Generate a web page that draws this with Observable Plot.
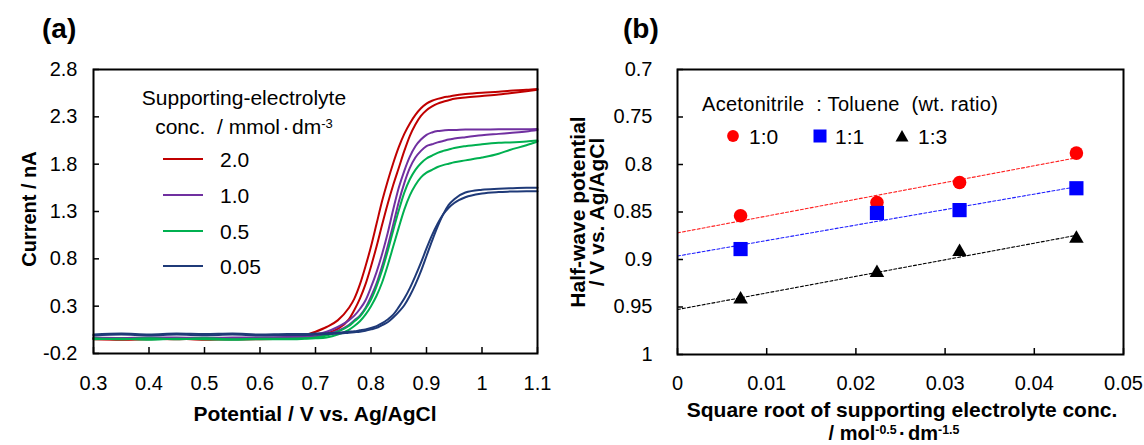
<!DOCTYPE html>
<html><head><meta charset="utf-8">
<script src="https://cdn.jsdelivr.net/npm/d3@7"></script>
<script src="https://cdn.jsdelivr.net/npm/@observablehq/plot@0.6"></script>
<style>
body{margin:0;background:#fff;}
#wrap{position:relative;width:1144px;height:445px;overflow:hidden;font-family:"Liberation Sans",Arial,Helvetica,sans-serif;color:#000;background:#fff;}
.pl{position:absolute;top:0;}
.t{position:absolute;white-space:pre;line-height:1;}
sup{font-size:0.62em;vertical-align:0.5em;line-height:0;}
.md{margin:0 0.12em;}
</style></head><body><div id="wrap"></div>
<script>
// ---------- Panel (a) data ----------
const potential = [0.30,0.35,0.40,0.45,0.50,0.55,0.60,0.65,0.68,0.70,0.72,0.74,0.76,0.77,0.78,0.79,0.80,0.81,0.82,0.83,0.84,0.85,0.86,0.87,0.88,0.89,0.90,0.91,0.92,0.93,0.94,0.95,0.97,1.00,1.03,1.05,1.08,1.10];
const red_a = [-0.04,-0.05,-0.045,-0.05,-0.04,-0.05,-0.045,-0.03,-0.01,0.03,0.08,0.15,0.28,0.38,0.53,0.72,0.93,1.17,1.41,1.62,1.81,1.98,2.12,2.23,2.32,2.39,2.44,2.47,2.49,2.505,2.515,2.525,2.54,2.555,2.565,2.575,2.585,2.595];
const red_b = [-0.05,-0.055,-0.05,-0.045,-0.055,-0.05,-0.05,-0.045,-0.035,-0.02,0.01,0.06,0.16,0.26,0.38,0.53,0.72,0.93,1.16,1.38,1.58,1.76,1.94,2.10,2.22,2.31,2.37,2.41,2.44,2.46,2.475,2.49,2.505,2.52,2.535,2.55,2.57,2.585];
const purple_a = [-0.03,-0.035,-0.03,-0.03,-0.035,-0.03,-0.03,-0.025,-0.015,0.0,0.03,0.08,0.15,0.20,0.27,0.36,0.50,0.66,0.85,1.07,1.32,1.55,1.73,1.88,1.99,2.06,2.11,2.135,2.15,2.155,2.16,2.16,2.165,2.165,2.17,2.17,2.17,2.172];
const purple_b = [-0.04,-0.04,-0.045,-0.04,-0.04,-0.045,-0.04,-0.035,-0.03,-0.02,0.0,0.04,0.10,0.15,0.20,0.28,0.40,0.54,0.72,0.93,1.16,1.40,1.60,1.76,1.87,1.94,1.99,2.01,2.03,2.045,2.06,2.07,2.085,2.105,2.12,2.13,2.145,2.16];
const green_a = [-0.04,-0.05,-0.04,-0.05,-0.04,-0.05,-0.045,-0.045,-0.04,-0.03,-0.01,0.03,0.09,0.14,0.19,0.27,0.37,0.51,0.68,0.88,1.10,1.31,1.50,1.64,1.74,1.81,1.86,1.89,1.92,1.94,1.955,1.97,1.99,2.01,2.025,2.03,2.04,2.05];
const green_b = [-0.05,-0.045,-0.055,-0.045,-0.05,-0.055,-0.05,-0.05,-0.045,-0.04,-0.03,0.0,0.05,0.09,0.14,0.21,0.30,0.41,0.55,0.73,0.93,1.13,1.32,1.47,1.58,1.66,1.71,1.74,1.77,1.79,1.805,1.82,1.84,1.87,1.91,1.95,2.00,2.04];
const navy_a = [0.0,0.01,0.0,0.01,0.005,0.01,0.0,0.005,0.005,0.01,0.015,0.02,0.03,0.035,0.045,0.055,0.07,0.09,0.12,0.16,0.21,0.29,0.38,0.49,0.62,0.76,0.91,1.05,1.17,1.27,1.34,1.39,1.45,1.49,1.505,1.51,1.515,1.515];
const navy_b = [-0.01,0.0,-0.01,0.0,-0.01,0.0,-0.01,-0.005,-0.005,0.0,0.005,0.01,0.02,0.025,0.03,0.04,0.055,0.07,0.10,0.13,0.18,0.24,0.31,0.41,0.53,0.67,0.83,0.99,1.14,1.27,1.37,1.43,1.50,1.53,1.54,1.545,1.55,1.55];
const concLabels = ["2.0","1.0","0.5","0.05"];
const concColors = ["#C00000","#7030A0","#00B050","#1F3A78"];
const xTicksA = [0.3,0.4,0.5,0.6,0.7,0.8,0.9,1.0,1.1];
const yTicksA = [-0.2,0.3,0.8,1.3,1.8,2.3,2.8];

// ---------- Panel (b) data ----------
const sqrtConc = [0.00707,0.02236,0.03162,0.04472];
const e_1_0 = [0.854,0.840,0.819,0.788];
const e_1_1 = [0.889,0.851,0.848,0.825];
const e_1_3 = [0.942,0.914,0.892,0.878];
const ratioLabels = ["1:0","1:1","1:3"];
const xTicksB = [0,0.01,0.02,0.03,0.04,0.05];
const yTicksB = [0.7,0.75,0.8,0.85,0.9,0.95,1];

const FONT = '"Liberation Sans", Arial, Helvetica, sans-serif';
const TICKFS = 20;
const TICKLEN = 6;
const fmt = d => String(+d.toFixed(3));
const wrap = document.getElementById("wrap");

// inward tick marks built from the tick arrays
function inwardTicks(xt, yt, L){
  const fw = L.width - L.marginLeft - L.marginRight;
  const fh = L.height - L.marginTop - L.marginBottom;
  return [
    Plot.tickX(xt, {x:d=>d, insetTop:fh-TICKLEN, stroke:"#000", strokeWidth:1.5}),
    Plot.tickY(yt, {y:d=>d, insetRight:fw-TICKLEN, stroke:"#000", strokeWidth:1.5})
  ];
}

// ---- build panel (a)
const curves = [
  {conc:"2.0", scan:"a", I:red_a},{conc:"2.0", scan:"b", I:red_b},
  {conc:"1.0", scan:"a", I:purple_a},{conc:"1.0", scan:"b", I:purple_b},
  {conc:"0.5", scan:"a", I:green_a},{conc:"0.5", scan:"b", I:green_b},
  {conc:"0.05", scan:"a", I:navy_a},{conc:"0.05", scan:"b", I:navy_b}
];
const rowsA = curves.flatMap(c => potential.map((E,i) => ({E, I:c.I[i], conc:c.conc, key:c.conc+c.scan})));

const layoutA = {width:560, height:445, marginLeft:93, marginRight:23, marginTop:69, marginBottom:92};
const plotA = Plot.plot({
  ...layoutA,
  style:{fontFamily:FONT, fontSize:TICKFS+"px", color:"#000", background:"transparent", overflow:"visible"},
  x:{domain:[0.3,1.1], label:null},
  y:{domain:[-0.2,2.8], label:null},
  color:{domain:concLabels, range:concColors},
  marks:[
    Plot.line(rowsA,{x:"E", y:"I", z:"key", stroke:"conc", strokeWidth:2, curve:"monotone-x"}),
    ...inwardTicks(xTicksA, yTicksA, layoutA),
    Plot.frame({stroke:"#000", strokeWidth:2}),
    Plot.axisX({ticks:xTicksA, tickSize:0, tickPadding:22, tickFormat:fmt, label:null, fontSize:TICKFS}),
    Plot.axisY({ticks:yTicksA, tickSize:0, tickPadding:16, tickFormat:fmt, label:null, fontSize:TICKFS})
  ]
});
plotA.classList.add("pl"); plotA.style.left = "0px";
wrap.appendChild(plotA);

// ---- build panel (b)
const seriesB = [
  {name:ratioLabels[0], E:e_1_0, color:"#FF0000", line:"#FF2020", symbol:"circle", r:6.8},
  {name:ratioLabels[1], E:e_1_1, color:"#0000FF", line:"#2020FF", symbol:"square", r:8.0},
  {name:ratioLabels[2], E:e_1_3, color:"#000000", line:"#000000", symbol:"triangle", r:5.4}
];
function fitRows(s){
  const xs = sqrtConc, ys = s.E;
  const mx = d3.mean(xs), my = d3.mean(ys);
  const m = d3.sum(xs, (x,i) => (x-mx)*(ys[i]-my)) / d3.sum(xs, x => (x-mx)**2);
  const b = my - m*mx;
  const x0 = 0, x1 = d3.max(xs);
  return [{x:x0, y:b+m*x0},{x:x1, y:b+m*x1}];
}
const ptsB = s => sqrtConc.map((x,i) => ({x, y:s.E[i]}));

const layoutB = {width:584, height:445, marginLeft:117, marginRight:21, marginTop:69, marginBottom:91};
const plotB = Plot.plot({
  ...layoutB,
  style:{fontFamily:FONT, fontSize:TICKFS+"px", color:"#000", background:"transparent", overflow:"visible"},
  x:{domain:[0,0.05], label:null},
  y:{domain:[0.7,1], reverse:true, label:null},
  marks:[
    ...seriesB.map(s => Plot.line(fitRows(s),{x:"x", y:"y", stroke:s.line, strokeWidth:1.1, strokeDasharray:"3,2"})),
    ...seriesB.map(s => Plot.dot(ptsB(s),{x:"x", y:"y", fill:s.color, symbol:s.symbol, r:s.r})),
    ...inwardTicks(xTicksB, yTicksB, layoutB),
    Plot.frame({stroke:"#000", strokeWidth:2}),
    Plot.axisX({ticks:xTicksB, tickSize:0, tickPadding:21, tickFormat:fmt, label:null, fontSize:TICKFS}),
    Plot.axisY({ticks:yTicksB, tickSize:0, tickPadding:25, tickFormat:fmt, label:null, fontSize:TICKFS})
  ]
});
plotB.classList.add("pl"); plotB.style.left = "560px";
wrap.appendChild(plotB);

// ---- text overlays
function addText(html, {x, y, size=19, bold=false, anchor="middle", rotate=0, lh=null, align="center", ls=null}){
  const d = document.createElement("div");
  d.className = "t";
  d.innerHTML = html;
  d.style.left = x + "px"; d.style.top = y + "px";
  d.style.fontSize = size + "px";
  d.style.fontWeight = bold ? "bold" : "normal";
  d.style.textAlign = align;
  if (lh) d.style.lineHeight = lh + "px";
  if (ls) d.style.letterSpacing = ls + "px";
  const tx = anchor === "start" ? "0" : "-50%";
  d.style.transform = `translate(${tx},-50%)` + (rotate ? ` rotate(${rotate}deg)` : "");
  wrap.appendChild(d);
  return d;
}
addText("(a)", {x:42, y:29, size:28, bold:true, anchor:"start"});
addText("(b)", {x:623, y:29, size:28, bold:true, anchor:"start"});
addText("Potential / V vs. Ag/AgCl", {x:315, y:413, size:21, bold:true});
addText("Current / nA", {x:29, y:209, size:20, bold:true, rotate:-90});
addText("Square root of supporting electrolyte conc.", {x:902, y:409, size:21, bold:true});
addText("/ mol<sup>-0.5</sup><span class=\"md\">·</span>dm<sup>-1.5</sup>", {x:894, y:433, size:20, bold:true});
addText("Half-wave potential<br>/ V vs. Ag/AgCl", {x:587, y:212, size:21, bold:true, rotate:-90, lh:19});

// legend (a)
addText("Supporting-electrolyte<br>conc.  / mmol<span class=\"md\">·</span>dm<sup>-3</sup>", {x:244, y:112, size:21, lh:29});
const rowY = [159,195,231,266];
concLabels.forEach((lab,i) => {
  const s = document.createElementNS("http://www.w3.org/2000/svg","svg");
  s.setAttribute("width","40"); s.setAttribute("height","6");
  s.style.position = "absolute"; s.style.left = "163px"; s.style.top = (rowY[i]-3) + "px";
  s.innerHTML = `<line x1="0" x2="40" y1="3" y2="3" stroke="${concColors[i]}" stroke-width="2.2"/>`;
  wrap.appendChild(s);
  addText(lab, {x:220, y:rowY[i], size:21, anchor:"start"});
});

// legend (b)
addText("Acetonitrile  : Toluene  (wt. ratio)", {x:702, y:104, size:20, anchor:"start", ls:0.3});
const legX = [733, 819.5, 902], legLabX = [749, 835, 918];
seriesB.forEach((s,i) => {
  const sv = document.createElementNS("http://www.w3.org/2000/svg","svg");
  sv.setAttribute("width","16"); sv.setAttribute("height","16");
  sv.style.position = "absolute"; sv.style.left = (legX[i]-8) + "px"; sv.style.top = (136-8) + "px";
  let shape;
  if (s.symbol === "circle") shape = `<circle cx="8" cy="8" r="5.9" fill="${s.color}"/>`;
  else if (s.symbol === "square") shape = `<rect x="1.5" y="1.5" width="13" height="13" fill="${s.color}"/>`;
  else shape = `<path d="M8,2 L14.5,13.5 L1.5,13.5 Z" fill="${s.color}"/>`;
  sv.innerHTML = shape;
  wrap.appendChild(sv);
  addText(s.name, {x:legLabX[i], y:136, size:21, anchor:"start"});
});
</script>
</body></html>
